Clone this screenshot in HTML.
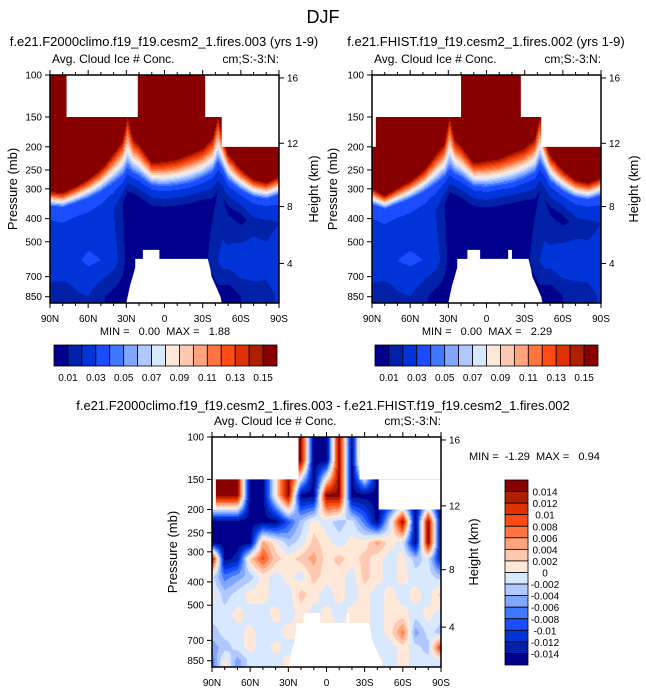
<!DOCTYPE html>
<html><head><meta charset="utf-8"><style>
html,body{margin:0;padding:0;background:#fff;width:646px;height:691px;overflow:hidden;position:relative;font-family:"Liberation Sans",Arial,sans-serif}
canvas{position:absolute}
svg{position:absolute;left:0;top:0}
</style></head><body>
<canvas id="cA" style="left:50px;top:75px" width="229" height="228"></canvas>
<canvas id="cB" style="left:372px;top:75px" width="229" height="228"></canvas>
<canvas id="cD" style="left:212px;top:437px" width="229" height="230"></canvas>
<svg id="ov" width="646" height="691"></svg>
<script>
// ---- data ----
const colors=['#00008c','#0021a8','#0034d8','#1a4dff','#4078ff','#80a6ff','#b0c8ff','#d8e8ff','#ffe8d8','#ffc8b0','#ffa47c','#ff7440','#ff4c14','#e03200','#b01e00','#880000'];
const topLabels=['0.01','0.03','0.05','0.07','0.09','0.11','0.13','0.15'];
const diffLabels=['0.014','0.012','0.01','0.008','0.006','0.004','0.002','0','-0.002','-0.004','-0.006','-0.008','-0.01','-0.012','-0.014'];
const pTicks=[100,150,200,250,300,400,500,700,850];
const hTicks=[16,12,8,4];
const latTicks=[90,60,30,0,-30,-60,-90];
const latTickLabels=['90N','60N','30N','0','30S','60S','90S'];
const lats=[90,80,70,60,50,40,33,29,25,20,10,0,-10,-20,-30,-38,-42,-46,-50,-60,-70,-80,-90];
const pRedA=[309,313,295,275,250,215,190,150,185,197,234,232,227,216,205,185,150,185,215,250,275,284,268];
const pBlueA=[355,360,345,330,310,285,268,250,260,268,292,296,292,286,272,258,235,252,278,305,325,332,320];
const floorA=[2.5,2.6,2.5,2.5,2.4,2,1,0.3,0,0,0,0,0,0,0.3,0.8,1,1,0.8,0.6,1.5,1.5,2];
const midA=[2.8,3,2.8,3.2,3,2.5,1.5,0.5,0,0,0,0,0,0,0.5,1.5,2,2.5,2.5,3,3,2.6,3];
const lowA=[1.5,1.2,1.8,2,1.2,0.6,0.3,0,0,0,0,0,0,0,0,0.3,0.5,0.3,0.2,1,1.2,1.5,2.2];
const pRedB=[300,322,300,280,255,218,195,150,188,200,235,230,226,214,204,186,150,188,218,252,277,286,270];
const pBlueB=[350,365,348,332,312,288,270,252,262,270,294,298,292,286,273,260,236,254,280,308,328,334,322];
const floorB=[2.5,2.6,2.5,2.5,2.4,2,1,0.3,0,0,0,0,0,0,0.3,0.8,1,1,0.8,0.6,1.4,1.5,2];
const midB=[2.8,3,3,3.2,3,2.5,1.5,0.5,0,0,0,0,0,0,0.5,1.5,2,2.5,2.5,3,3,2.8,3];
const lowB=[1.5,1.2,1.8,2,1.3,0.6,0.3,0,0,0,0,0,0,0,0,0.3,0.5,0.3,0.2,1,1.2,1.5,2.2];
const dLats=[90,80,70,60,50,40,30,20,10,0,-10,-20,-30,-40,-50,-60,-70,-80,-90];
const dLevs=[125,175,225,275,320,380,450,550,650,750,850];
const dGrid=[
[15,15,15,0,0,8,15,15,0,0,15,0,15,0,0,0,0,0,0],
[15,15,15,0,0,8,15,0,0,15,15,0,0,0,0,0,0,0,0],
[0,0,0,0,0,0,3,6,8,7,6,7,4,0,7,15,0,15,0],
[0,0,0,0,10,8,6,7,9,8,7,8,8,10,8,7,0,15,0],
[15,0,1,9,12,9,8,9,10,8,9,8,9,8,7,8,6,7,1],
[7,4,5,6,8,7,8,7,9,8,8,7,9,8,7,8,7,7,6],
[8,6,7,8,8,7,7,9,8,7,8,7,8,7,8,7,8,7,9],
[7,7,8,7,7,8,7,8,7,8,7,8,8,7,8,8,7,8,7],
[6,7,7,8,7,7,8,8,8,8,8,8,8,7,8,11,5,7,6],
[5,6,7,8,7,8,7,7,7,7,7,7,7,7,7,8,7,6,13],
[4,8,5,7,7,7,8,8,8,8,8,8,8,8,7,8,7,7,7]];
// missing regions (lat, p)
const missA=[[[77,100],[21,100],[21,150],[77,150]],[[-32,100],[-90,100],[-90,150],[-32,150]],[[-45,150],[-90,150],[-90,200],[-45,200]]];
const groundA=[[30,903],[29,850],[27,760],[25,700],[23,640],[23,590],[17,590],[17,541],[4,541],[4,590],[-34,590],[-36,650],[-37,700],[-40,760],[-44,850],[-45,903]];
const missB=[[[90,100],[20,100],[20,150],[90,150]],[[90,150],[87,150],[87,200],[90,200]],[[-27,100],[-90,100],[-90,150],[-27,150]],[[-43,150],[-90,150],[-90,200],[-43,200]]];
const groundB=[[30,903],[29,850],[27,760],[25,700],[23,640],[23,590],[15,590],[15,541],[5,541],[5,590],[-17,590],[-17,541],[-20,541],[-20,590],[-33,590],[-35,650],[-36,700],[-39,760],[-43,850],[-44,903]];
const missD=[[[90,100],[22,100],[22,150],[90,150]],[[90,150],[87,150],[87,200],[90,200]],[[-26,100],[-90,100],[-90,150],[-26,150]],[[-41,150],[-90,150],[-90,200],[-41,200]]];
const groundD=[[30,903],[29,850],[27,760],[25,700],[24,640],[24,593],[18,593],[18,539],[5,539],[5,593],[-16,593],[-16,539],[-18,539],[-18,593],[-33,593],[-35,650],[-36,700],[-39,760],[-43,850],[-44,903]];

// ---- helpers ----
const PMAX=903, LN=Math.log(PMAX/100);
function mkAxes(x0,y0,w,h){return{x:lat=>x0+(90-lat)/180*w,y:p=>y0+Math.log(p/100)/LN*h,x0,y0,w,h};}
const AX_A=mkAxes(50,75,229,228), AX_B=mkAxes(372,75,229,228), AX_D=mkAxes(212,437,229,230);
function interp(xs,vs,x){for(let i=0;i<xs.length-1;i++){if(x<=xs[i]&&x>=xs[i+1]){const t=(xs[i]-x)/(xs[i]-xs[i+1]);return vs[i]+(vs[i+1]-vs[i])*t;}}return x>xs[0]?vs[0]:vs[vs.length-1];}
function lin(a,b,t){return a+(b-a)*Math.max(0,Math.min(1,t));}
function topClass(lat,p,R,B,F,M,L){
  const r=interp(lats,R,lat),b=interp(lats,B,lat),f=interp(lats,F,lat),m=interp(lats,M,lat),lo=interp(lats,L,lat);
  const lp=Math.log(p);let c;
  if(p<r)c=15.5;
  else if(p<b)c=lin(15,3.5,(lp-Math.log(r))/(Math.log(b)-Math.log(r)));
  else if(p<b*1.3)c=lin(3.5,f,(lp-Math.log(b))/Math.log(1.3));
  else if(p<600)c=lin(f,m,(lp-Math.log(b*1.3))/(Math.log(600)-Math.log(b*1.3)));
  else c=lin(m,lo,(lp-Math.log(600))/(Math.log(850)-Math.log(600)));
  return c;
}
function diffClass(lat,p){
  const lp=Math.log(p);let j=0;
  while(j<dLevs.length-2&&p>dLevs[j+1])j++;
  const t=Math.max(0,Math.min(1,(lp-Math.log(dLevs[j]))/(Math.log(dLevs[j+1])-Math.log(dLevs[j]))));
  const a=interp(dLats,dGrid[j],lat),b=interp(dLats,dGrid[j+1],lat);
  return a+(b-a)*t+0.45;
}
const rgb=colors.map(c=>[parseInt(c.substr(1,2),16),parseInt(c.substr(3,2),16),parseInt(c.substr(5,2),16)]);
function paint(id,ax,fn){
  const cv=document.getElementById(id),ctx=cv.getContext('2d');
  const im=ctx.createImageData(cv.width,cv.height);
  for(let j=0;j<cv.height;j++){const p=100*Math.exp((j+0.5)/cv.height*LN);
    for(let i=0;i<cv.width;i++){const lat=90-(i+0.5)/cv.width*180;
      let c=Math.floor(fn(lat,p));c=Math.max(0,Math.min(15,c));const k=(j*cv.width+i)*4,col=rgb[c];
      im.data[k]=col[0];im.data[k+1]=col[1];im.data[k+2]=col[2];im.data[k+3]=255;}}
  ctx.putImageData(im,0,0);
}
paint('cA',AX_A,(l,p)=>topClass(l,p,pRedA,pBlueA,floorA,midA,lowA));
paint('cB',AX_B,(l,p)=>topClass(l,p,pRedB,pBlueB,floorB,midB,lowB));
paint('cD',AX_D,diffClass);

const svg=document.getElementById('ov');const NS='http://www.w3.org/2000/svg';
function el(tag,attrs,parent){const e=document.createElementNS(NS,tag);for(const k in attrs)e.setAttribute(k,attrs[k]);(parent||svg).appendChild(e);return e;}
function txt(s,x,y,size,anchor,name,rot){const t=el('text',{x:x,y:y,'font-size':size,'text-anchor':anchor||'start',fill:'#000','font-family':'Liberation Sans, Arial, sans-serif'});
  if(rot)t.setAttribute('transform','rotate(-90 '+x+' '+y+')');
  
  
  t.style.whiteSpace='pre';
  t.textContent=s;return t;}
function hToP(z){const m=z*1000;if(m<=11000)return 1013.25*Math.pow(1-2.25577e-5*m,5.25588);return 226.32*Math.exp(-(m-11000)/6341.6);}

function panel(ax,miss,ground,pre){
  const g=el('g',{});
  
  
  miss.concat([ground]).forEach(poly=>{const pg=el('polygon',{points:poly.map(q=>ax.x(q[0])+','+ax.y(q[1])).join(' '),fill:'#fff'},g);
    
    });
  const fr=el('rect',{x:ax.x0,y:ax.y0,width:ax.w,height:ax.h,fill:'none',stroke:'#000','stroke-width':1.5},g);
  
  
  pTicks.forEach(p=>{const y=ax.y(p);el('line',{x1:ax.x0-5,x2:ax.x0,y1:y,y2:y,stroke:'#000','stroke-width':1},g);
    txt(String(p),ax.x0-8,y+3.5,10,'end','pressure-tick-label');});
  hTicks.forEach(h=>{const y=ax.y(hToP(h));el('line',{x1:ax.x0+ax.w,x2:ax.x0+ax.w+5,y1:y,y2:y,stroke:'#000','stroke-width':1},g);
    txt(String(h),ax.x0+ax.w+8,y+3.5,10,'start','height-tick-label');});
  for(let lat=90;lat>=-90;lat-=10){const x=ax.x(lat),len=(lat%30===0)?5:3;
    el('line',{x1:x,x2:x,y1:ax.y0+ax.h,y2:ax.y0+ax.h+len,stroke:'#000','stroke-width':1},g);
    el('line',{x1:x,x2:x,y1:ax.y0,y2:ax.y0-len,stroke:'#000','stroke-width':1},g);}
  latTicks.forEach((l,i)=>txt(latTickLabels[i],ax.x(l),ax.y0+ax.h+19,10,'middle','latitude-tick-label'));
  txt('Avg. Cloud Ice # Conc.',ax.x0+2,ax.y0-12,12,'start',pre+'-variable-label');
  txt('cm;S:-3:N:',ax.x0+ax.w,ax.y0-12,12,'end',pre+'-units-label');
}
panel(AX_A,missA,groundA,'left');
panel(AX_B,missB,groundB,'right');
panel(AX_D,missD,groundD,'diff');

txt('DJF',323,23,18,'middle','figure-title');
txt('f.e21.F2000climo.f19_f19.cesm2_1.fires.003 (yrs 1-9)',164,46,13,'middle','left-panel-title');
txt('f.e21.FHIST.f19_f19.cesm2_1.fires.002 (yrs 1-9)',486,46,13,'middle','right-panel-title');
txt('f.e21.F2000climo.f19_f19.cesm2_1.fires.003 - f.e21.FHIST.f19_f19.cesm2_1.fires.002',323,410,13,'middle','diff-panel-title');
txt('Pressure (mb)',17,189,13,'middle','left-y-axis-title',true);
txt('Height (km)',318,189,13,'middle','left-right-axis-title',true);
txt('Pressure (mb)',337,189,13,'middle','right-y-axis-title',true);
txt('Height (km)',638,189,13,'middle','right-right-axis-title',true);
txt('Pressure (mb)',177,552,13,'middle','diff-y-axis-title',true);
txt('Height (km)',478,552,13,'middle','diff-right-axis-title',true);
txt('MIN =   0.00  MAX =   1.88',165,335,11,'middle','left-min-max');
txt('MIN =   0.00  MAX =   2.29',487,335,11,'middle','right-min-max');
txt('MIN =  -1.29  MAX =   0.94',469,460,11,'start','diff-min-max');

function hbar(x0,pre){
  const w=223,bw=w/16,y=345,h=21;
  colors.forEach((c,i)=>{const r=el('rect',{x:x0+i*bw,y:y,width:bw,height:h,fill:c,stroke:'#000','stroke-width':0.8});
    
    });
  topLabels.forEach((s,i)=>txt(s,x0+(2*i+1)*bw,381,10,'middle',pre+'-colorbar-label'));
}
hbar(54,'left');hbar(375,'right');
(function(){const x=505,y0=480,h=185,bh=h/16;
  for(let i=0;i<16;i++){const r=el('rect',{x:x,y:y0+i*bh,width:23,height:bh,fill:colors[15-i],stroke:'#000','stroke-width':0.8});
    
    }
  diffLabels.forEach((s,i)=>txt(s,545,y0+(i+1)*bh+4,10,'middle','diff-colorbar-label'));
})();
</script>
</body></html>
